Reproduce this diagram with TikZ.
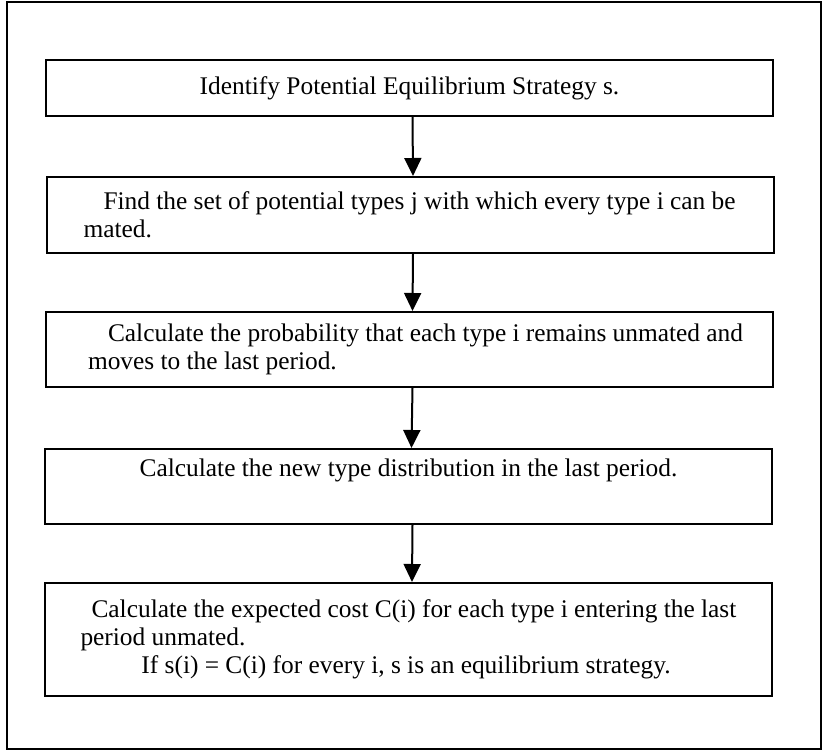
\documentclass[tikz,border=0pt]{standalone}
\usepackage{fontspec}
\setmainfont{Liberation Serif}
\usepackage{tikz}
\usetikzlibrary{arrows.meta,positioning}

\tikzset{
	stepbox/.style={draw, line width=2pt, inner xsep=36pt, inner ysep=0pt,
		text width=655pt, minimum height=#1,
		font=\fontsize{25.4}{28.2}\selectfont,
		execute at begin node={\spaceskip=6.3pt\relax}},
	flow/.style={line width=2pt, -{Triangle[width=17pt,length=18pt]}}
}

\begin{document}
\begin{tikzpicture}[x=1pt,y=-1pt]
		\useasboundingbox (0,0) rectangle (823,755);
		\draw[line width=2.5pt] (7,2) rectangle (821,749);
		
		% Steps
		\node[stepbox=56pt, align=center] (identify) at (409.5,88)
			{Identify Potential Equilibrium Strategy s.};
		\node[stepbox=76pt, align=left] (findset) at (410,215)
			{\mbox{\hspace*{21pt}Find the set of potential types j with which every type i can be}\\
			\hspace*{1pt}mated.};
		\node[stepbox=75pt, align=left] (prob) at (409.5,349.5)
			{\mbox{\hspace*{26pt}Calculate the probability that each type i remains unmated and}\\
			\hspace*{6pt}moves to the last period.};
		\node[stepbox=75pt, align=center] (newdist) at (408.5,486.5)
			{Calculate the new type distribution in the last period.\\ \strut};
		\node[stepbox=113pt, align=left] (cost) at (408,639.5)
			{\mbox{\hspace*{11pt}Calculate the expected cost C(i) for each type i entering the last}\\
			period unmated.\\
			\mbox{\hspace*{61pt}If s(i) = C(i) for every i, s is an equilibrium strategy.}};
		
		% Arrows
		\draw[flow] ([xshift=3pt]identify.south) -- ([xshift=3pt]findset.north);
		\draw[flow] ([xshift=3pt]findset.south) -- ([xshift=3pt]prob.north);
		\draw[flow] ([xshift=3pt]prob.south) -- ([xshift=3pt]newdist.north);
		\draw[flow] ([xshift=4pt]newdist.south) -- ([xshift=4pt]cost.north);
	\end{tikzpicture}
\end{document}
